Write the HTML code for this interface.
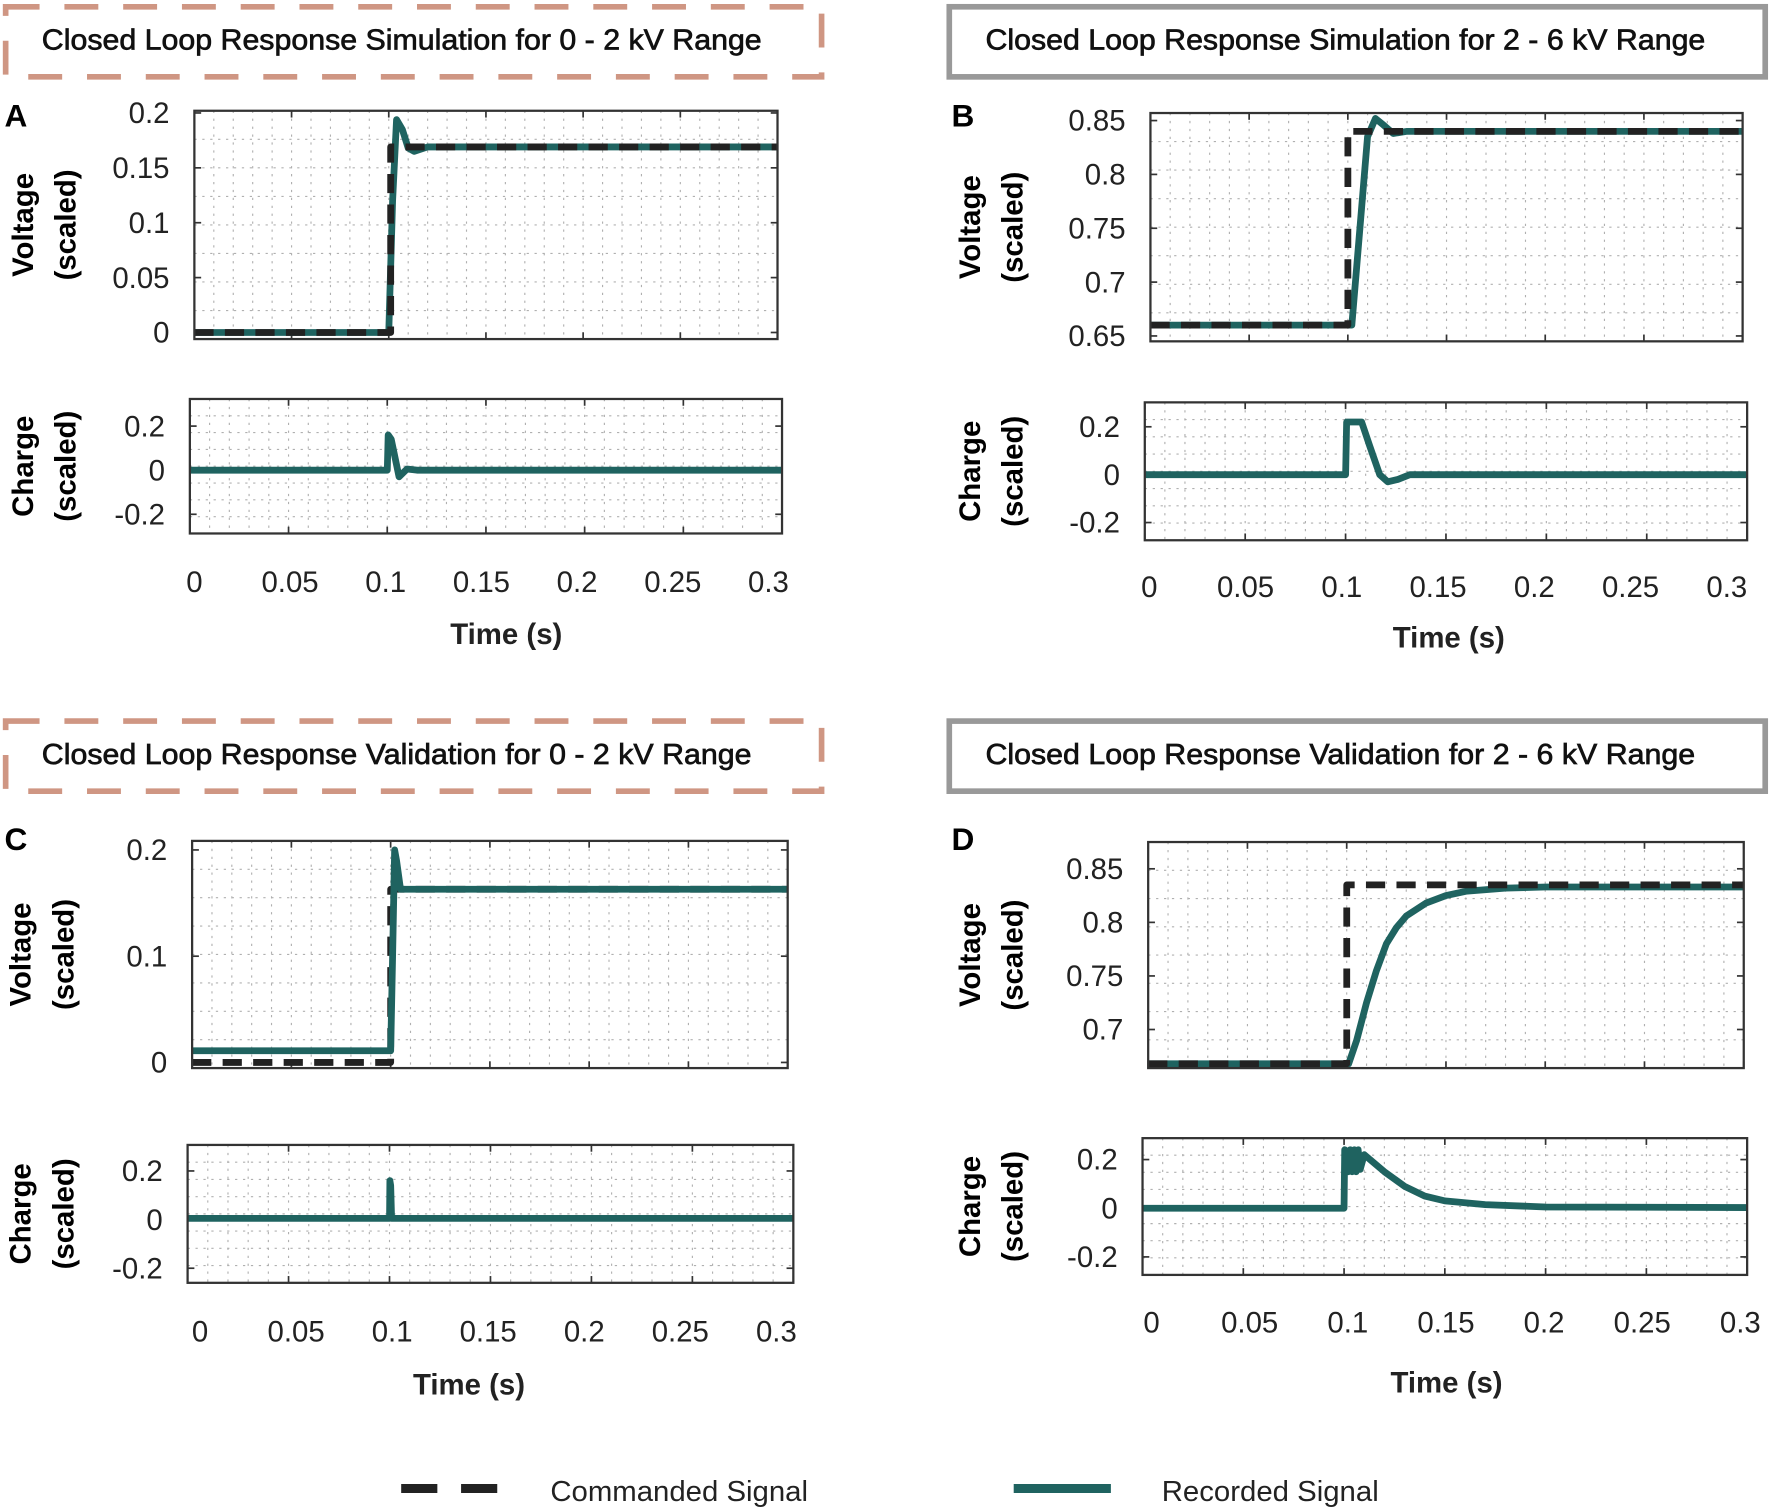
<!DOCTYPE html>
<html><head><meta charset="utf-8"><style>
html,body{margin:0;padding:0;background:#fff}
svg{display:block;font-family:"Liberation Sans",sans-serif}
</style></head><body>
<svg id="fig" width="1772" height="1510" viewBox="0 0 1568 1336" preserveAspectRatio="none" xmlns="http://www.w3.org/2000/svg">
<g>
<rect x="5" y="6" width="722" height="62" fill="none" stroke="#cf9683" stroke-width="5" stroke-dasharray="30 22"/>
<text x="37" y="44" font-size="25" fill="#111" stroke="#111" stroke-width="0.6" textLength="637" lengthAdjust="spacingAndGlyphs">Closed Loop Response Simulation for 0 - 2 kV Range</text></g>
<g>
<rect x="840" y="6" width="722" height="62" fill="none" stroke="#999" stroke-width="5"/>
<text x="872" y="44" font-size="25" fill="#111" stroke="#111" stroke-width="0.6" textLength="637" lengthAdjust="spacingAndGlyphs">Closed Loop Response Simulation for 2 - 6 kV Range</text></g>
<g>
<rect x="5" y="638" width="722" height="62" fill="none" stroke="#cf9683" stroke-width="5" stroke-dasharray="30 22"/>
<text x="37" y="676" font-size="25" fill="#111" stroke="#111" stroke-width="0.6" textLength="628" lengthAdjust="spacingAndGlyphs">Closed Loop Response Validation for 0 - 2 kV Range</text></g>
<g>
<rect x="840" y="638" width="722" height="62" fill="none" stroke="#999" stroke-width="5"/>
<text x="872" y="676" font-size="25" fill="#111" stroke="#111" stroke-width="0.6" textLength="628" lengthAdjust="spacingAndGlyphs">Closed Loop Response Validation for 2 - 6 kV Range</text></g>
<text x="4" y="112" font-size="28" font-weight="bold">A</text>
<text x="842" y="112" font-size="28" font-weight="bold">B</text>
<text x="4" y="752" font-size="28" font-weight="bold">C</text>
<text x="842" y="752" font-size="28" font-weight="bold">D</text>
<g>
<line x1="355" y1="1317" x2="440" y2="1317" stroke="#222" stroke-width="8" stroke-dasharray="32 21"/>
<text x="487" y="1328" font-size="25" fill="#222" textLength="228" lengthAdjust="spacingAndGlyphs">Commanded Signal</text>
<line x1="897" y1="1317" x2="983" y2="1317" stroke="#1f6360" stroke-width="8"/>
<text x="1028" y="1328" font-size="25" fill="#222" textLength="192" lengthAdjust="spacingAndGlyphs">Recorded Signal</text></g>
<g id="plots"></g>
</svg>
<script>
// Panel A
const aTime = [0, 0.1, 0.102, 0.104, 0.107, 0.11, 0.113, 0.12, 0.3];
const aVolt = [0, 0, 0.12, 0.194, 0.185, 0.168, 0.165, 0.169, 0.169];
const aCmdTime = [0, 0.101, 0.101, 0.3];
const aCmd = [0, 0, 0.169, 0.169];
const aQTime = [0, 0.1, 0.1005, 0.102, 0.106, 0.11, 0.115, 0.3];
const aQ = [0, 0, 0.16, 0.14, -0.03, 0.005, 0, 0];
// Panel B
const bTime = [0, 0.102, 0.11, 0.114, 0.118, 0.123, 0.13, 0.3];
const bVolt = [0.66, 0.66, 0.835, 0.852, 0.846, 0.838, 0.84, 0.84];
const bCmdTime = [0, 0.1, 0.1, 0.3];
const bCmd = [0.66, 0.66, 0.84, 0.84];
const bQTime = [0, 0.1, 0.1005, 0.108, 0.112, 0.117, 0.121, 0.126, 0.132, 0.3];
const bQ = [0, 0, 0.22, 0.22, 0.12, 0.0, -0.03, -0.02, 0, 0];
// Panel C
const cTime = [0, 0.1, 0.101, 0.102, 0.103, 0.105, 0.3];
const cVolt = [0.011, 0.011, 0.1, 0.2, 0.19, 0.163, 0.163];
const cCmdTime = [0, 0.1, 0.1, 0.3];
const cCmd = [0, 0, 0.163, 0.163];
const cQTime = [0, 0.1, 0.1002, 0.1006, 0.101, 0.3];
const cQ = [0.005, 0.005, 0.16, 0.14, 0.005, 0.005];
// Panel D
const dTime = [0, 0.101, 0.105, 0.11, 0.115, 0.12, 0.125, 0.13, 0.14, 0.15, 0.16, 0.18, 0.2, 0.3];
const dVolt = [0.668, 0.668, 0.69, 0.725, 0.755, 0.78, 0.795, 0.806, 0.818, 0.825, 0.829, 0.832, 0.833, 0.833];
const dCmdTime = [0, 0.1, 0.1, 0.3];
const dCmd = [0.668, 0.668, 0.835, 0.835];
const dQTime = [0, 0.1, 0.1003, 0.102, 0.103, 0.104, 0.105, 0.106, 0.107, 0.108, 0.11, 0.12, 0.13, 0.14, 0.15, 0.17, 0.2, 0.3];
const dQ = [0, 0, 0.24, 0.15, 0.24, 0.15, 0.24, 0.15, 0.24, 0.16, 0.22, 0.15, 0.09, 0.05, 0.03, 0.015, 0.005, 0.003];
const xTicks = [0, 0.05, 0.1, 0.15, 0.2, 0.25, 0.3];
const xTickLabels = ["0", "0.05", "0.1", "0.15", "0.2", "0.25", "0.3"];
const qTicks = [-0.2, 0, 0.2];
const qTickLabels = ["-0.2", "0", "0.2"];
const aVTicks = [0, 0.05, 0.1, 0.15, 0.2];
const aVTickLabels = ["0", "0.05", "0.1", "0.15", "0.2"];
const bVTicks = [0.65, 0.7, 0.75, 0.8, 0.85];
const bVTickLabels = ["0.65", "0.7", "0.75", "0.8", "0.85"];
const cVTicks = [0, 0.1, 0.2];
const cVTickLabels = ["0", "0.1", "0.2"];
const dVTicks = [0.7, 0.75, 0.8, 0.85];
const dVTickLabels = ["0.7", "0.75", "0.8", "0.85"];

const NS = "http://www.w3.org/2000/svg";
const root = document.getElementById('plots');
function mk(tag, attrs, parent) {
  const e = document.createElementNS(NS, tag);
  for (const k in attrs) e.setAttribute(k, attrs[k]);
  parent.appendChild(e);
  return e;
}
function axes(name, box, ylim, yTicks, yLabels, series, ylabel) {
  const g = mk('g', {}, root);
  
  
  const [x0, y0, x1, y1] = box;
  const sx = t => x0 + (t / 0.3) * (x1 - x0);
  const sy = v => y1 - (v - ylim[0]) / (ylim[1] - ylim[0]) * (y1 - y0);
  for (let t = 0.01; t < 0.3; t += 0.01) {
    const ln = mk('line', {x1: sx(t), x2: sx(t), y1: y0, y2: y1, stroke: '#b0b0b0', 'stroke-width': 1, 'stroke-dasharray': '2 5'}, g);
    
    
  }
  const nY = 8;
  for (let i = 1; i < nY; i++) {
    const yy = y0 + (y1 - y0) * i / nY;
    const ln = mk('line', {x1: x0, x2: x1, y1: yy, y2: yy, stroke: '#b0b0b0', 'stroke-width': 1, 'stroke-dasharray': '2 5'}, g);
    
    
  }
  xTicks.forEach(t => {
    mk('line', {x1: sx(t), x2: sx(t), y1: y1, y2: y1 - 6, stroke: '#333', 'stroke-width': 1.5}, g);
    mk('line', {x1: sx(t), x2: sx(t), y1: y0, y2: y0 + 6, stroke: '#333', 'stroke-width': 1.5}, g);
  });
  yTicks.forEach((v, i) => {
    mk('line', {x1: x0, x2: x0 + 6, y1: sy(v), y2: sy(v), stroke: '#333', 'stroke-width': 1.5}, g);
    mk('line', {x1: x1, x2: x1 - 6, y1: sy(v), y2: sy(v), stroke: '#333', 'stroke-width': 1.5}, g);
    const tx = mk('text', {x: x0 - 22, y: sy(v) + 9, 'font-size': 26, 'text-anchor': 'end', fill: '#222'}, g);
    
    
    tx.textContent = yLabels[i];
  });
  series.forEach(s => {
    const d = s.t.map((t, i) => (i ? 'L' : 'M') + sx(t).toFixed(1) + ',' + sy(s.v[i]).toFixed(1)).join(' ');
    const p = mk('path', {d: d, fill: 'none', stroke: s.c, 'stroke-width': 6, 'stroke-linejoin': 'round'}, g);
    if (s.dash) p.setAttribute('stroke-dasharray', '17 10');
    
    
  });
  mk('rect', {x: x0, y: y0, width: x1 - x0, height: y1 - y0, fill: 'none', stroke: '#333', 'stroke-width': 2}, g);
  const cy = (y0 + y1) / 2;
  const lx = box[4] || 20;
  const l1 = mk('text', {x: 0, y: 0, 'font-size': 26, 'font-weight': 'bold', 'text-anchor': 'middle', transform: `translate(${lx + 9},${cy}) rotate(-90)`}, g);
  
  
  l1.textContent = ylabel;
  const l2 = mk('text', {x: 0, y: 0, 'font-size': 26, 'font-weight': 'bold', 'text-anchor': 'middle', transform: `translate(${lx + 47},${cy}) rotate(-90)`}, g);
  
  
  l2.textContent = '(scaled)';
  return {sx, g};
}
function xAxis(name, x0, x1, ly, tx, ty) {
  const g = mk('g', {}, root);
  
  
  xTicks.forEach((t, i) => {
    const e = mk('text', {x: x0 + (t / 0.3) * (x1 - x0), y: ly, 'font-size': 26, 'text-anchor': 'middle', fill: '#222'}, g);
    
    
    e.textContent = xTickLabels[i];
  });
  const t = mk('text', {x: tx, y: ty, 'font-size': 26, 'font-weight': 'bold', 'text-anchor': 'middle', fill: '#222'}, g);
  
  
  t.textContent = 'Time (s)';
}
const TEAL = '#1f6360', BLK = '#222';
axes('panel-a-voltage', [172, 98, 688, 300, 20], [-0.006, 0.202], aVTicks, aVTickLabels,
  [{t: aTime, v: aVolt, c: TEAL, name: 'recorded-voltage-a'}, {t: aCmdTime, v: aCmd, c: BLK, dash: 1, name: 'commanded-voltage-a'}], 'Voltage');
axes('panel-a-charge', [168, 353, 692, 472, 20], [-0.287, 0.323], qTicks, qTickLabels,
  [{t: aQTime, v: aQ, c: TEAL, name: 'recorded-charge-a'}], 'Charge');
xAxis('x-axis-a', 172, 680, 524, 448, 570);
axes('panel-b-voltage', [1018, 100, 1542, 302, 858], [0.645, 0.857], bVTicks, bVTickLabels,
  [{t: bTime, v: bVolt, c: TEAL, name: 'recorded-voltage-b'}, {t: bCmdTime, v: bCmd, c: BLK, dash: 1, name: 'commanded-voltage-b'}], 'Voltage');
axes('panel-b-charge', [1013, 356, 1546, 478, 858], [-0.274, 0.302], qTicks, qTickLabels,
  [{t: bQTime, v: bQ, c: TEAL, name: 'recorded-charge-b'}], 'Charge');
xAxis('x-axis-b', 1017, 1528, 528, 1282, 573);
axes('panel-c-voltage', [170, 744, 697, 945, 18], [-0.0053, 0.2085], cVTicks, cVTickLabels,
  [{t: cCmdTime, v: cCmd, c: BLK, dash: 1, name: 'commanded-voltage-c'}, {t: cTime, v: cVolt, c: TEAL, name: 'recorded-voltage-c'}], 'Voltage');
axes('panel-c-charge', [166, 1013, 702, 1135, 18], [-0.26, 0.307], qTicks, qTickLabels,
  [{t: cQTime, v: cQ, c: TEAL, name: 'recorded-charge-c'}], 'Charge');
xAxis('x-axis-c', 177, 687, 1187, 415, 1234);
axes('panel-d-voltage', [1016, 745, 1543, 945, 858], [0.664, 0.875], dVTicks, dVTickLabels,
  [{t: dTime, v: dVolt, c: TEAL, name: 'recorded-voltage-d'}, {t: dCmdTime, v: dCmd, c: BLK, dash: 1, name: 'commanded-voltage-d'}], 'Voltage');
axes('panel-d-charge', [1011, 1007, 1546, 1128, 858], [-0.274, 0.288], qTicks, qTickLabels,
  [{t: dQTime, v: dQ, c: TEAL, name: 'recorded-charge-d'}], 'Charge');
xAxis('x-axis-d', 1019, 1540, 1179, 1280, 1232);
</script>
</body></html>
